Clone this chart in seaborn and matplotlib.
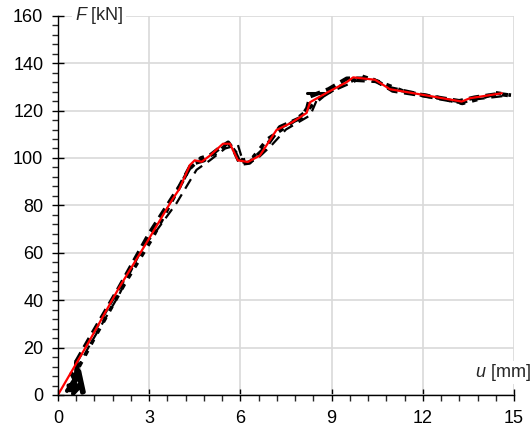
import numpy as np
import pandas as pd
import matplotlib
matplotlib.use("Agg")
import matplotlib.pyplot as plt
import seaborn as sns
from matplotlib.ticker import MultipleLocator

# red (mean / model) curve
u_red = [0, 0.5, 1.0, 2.0, 3.0, 3.74, 4.0, 4.34, 4.5, 4.73, 5.0, 5.43, 5.66, 5.92,
         6.25, 6.64, 7.19, 7.7, 8.18, 8.29, 8.84, 9.5, 9.71, 10.43, 10.92, 12.02,
         13.28, 13.55, 14.6]
F_red = [0, 11, 22, 45, 66, 82, 87, 97, 99, 98.4, 101, 106, 106, 99,
         98.3, 101, 111.8, 115, 119, 123.5, 127.5, 132, 134, 133, 129, 126.6,
         123.8, 125.2, 127.3]

# dashed test curve
u_dash = [0.6, 1.0, 2.0, 2.8, 3.19, 3.9, 4.56, 5.0, 5.5, 5.92, 6.1, 6.5, 7.0, 7.5,
          8.3, 8.5, 9.0, 9.8, 10.5, 11.0, 12.0, 13.3, 13.6, 14.9]
F_dash = [10, 20, 42, 62.5, 68.4, 80.9, 95, 99, 104, 105.5, 98, 99, 105, 112,
          118, 124, 128, 132.5, 132, 128, 126, 123, 124.5, 126.5]

# heavy short-dashed test curve 1
u_blk = [0.6, 1.0, 2.0, 3.0, 4.0, 4.4, 4.8, 5.3, 5.6, 5.8, 6.0, 6.3, 6.8, 7.3,
         8.0, 8.2, 8.3, 8.9, 9.5, 10.3, 10.9, 12.0, 13.2, 13.7, 14.5, 14.8]
F_blk = [14, 23, 45, 68, 88, 97.5, 99, 104, 106.5, 103, 97.5, 98, 104, 113,
         117, 121, 126, 129, 133.5, 133.5, 129.5, 126.5, 124, 125.5, 127, 126.5]

# heavy short-dashed test curve 2
u_blk2 = [0.7, 1.2, 2.2, 3.1, 3.8, 4.3, 4.7, 5.2, 5.5, 5.75, 6.05, 6.4, 6.9, 7.6,
          8.1, 8.35, 8.8, 9.4, 10.0, 10.6, 11.4, 12.5, 13.3, 13.9, 14.4, 14.9]
F_blk2 = [12, 24, 47, 66, 83, 95, 100, 102, 105, 104, 99, 100, 108, 114,
          119, 122, 127, 131, 134.5, 132, 128, 125.5, 123, 125, 127.5, 126.5]

# initial slip noise near origin
u_slip = [0.3, 0.55, 0.45, 0.65, 0.6, 0.8, 0.85, 0.7, 0.4, 0.65, 0.6, 0.7, 0.35,
          0.75, 0.85, 0.5, 0.3, 0.55, 0.62]
F_slip = [1, 5, 9, 3, 13, 1, 0.5, 6, 2, 10, 15, 14, 4, 4, 2, 0.5, 2.5, 8, 11]

# short plateau segment
u_step = [8.2, 8.75]
F_step = [127.3, 127.3]

sns.set_style("white")
plt.rcParams["font.family"] = ["Liberation Sans", "DejaVu Sans"]
plt.rcParams["mathtext.fontset"] = "custom"
plt.rcParams["mathtext.it"] = "Liberation Sans:italic"
plt.rcParams["mathtext.rm"] = "Liberation Sans"

fig = plt.figure(figsize=(5.31, 4.30), dpi=100)
ax = fig.add_axes([0.109, 0.0814, 0.859, 0.882])

ax.grid(True, color="#d9d9d9", lw=1.2, zorder=0)
ax.set_axisbelow(True)

sns.lineplot(x=u_slip, y=F_slip, sort=False, color="black", lw=3, ax=ax)
sns.lineplot(x=u_dash, y=F_dash, sort=False, color="black", lw=1.6,
             linestyle=(0, (5, 3)), ax=ax)
sns.lineplot(x=u_blk2, y=F_blk2, sort=False, color="black", lw=2.6,
             linestyle=(0, (1.5, 2)), ax=ax)
sns.lineplot(x=u_blk, y=F_blk, sort=False, color="black", lw=3,
             linestyle=(0, (2.5, 1.5)), ax=ax)
sns.lineplot(x=u_step, y=F_step, sort=False, color="black", lw=2.2, ax=ax)
sns.lineplot(x=u_red, y=F_red, sort=False, color="#ff0000", lw=1.6, ax=ax)

ax.set_xlim(0, 15)
ax.set_ylim(0, 160)
ax.xaxis.set_major_locator(MultipleLocator(3))
ax.xaxis.set_minor_locator(MultipleLocator(0.6))
ax.yaxis.set_major_locator(MultipleLocator(20))
ax.yaxis.set_minor_locator(MultipleLocator(4))
ax.tick_params(which="major", direction="inout", length=9, width=1, labelsize=13,
               colors="black", pad=6)
ax.tick_params(which="minor", direction="out", length=4, width=1)
ax.tick_params(axis="x", which="both", bottom=True)
ax.tick_params(axis="y", which="both", left=True)

for s in ["top", "right"]:
    ax.spines[s].set_visible(False)
for s in ["left", "bottom"]:
    ax.spines[s].set_color("black")
    ax.spines[s].set_linewidth(1)

ax.set_xlabel("")
ax.set_ylabel("")

ax.text(0.55, 160, r"$F$" + " [kN]", fontsize=13, va="center", ha="left",
        bbox=dict(facecolor="white", edgecolor="none", pad=2), clip_on=False)
ax.text(15.55, 9.5, r"$u$" + " [mm]", fontsize=13, va="center", ha="right",
        bbox=dict(facecolor="white", edgecolor="none", pad=1), clip_on=False)

fig.savefig("out.png", dpi=100)
